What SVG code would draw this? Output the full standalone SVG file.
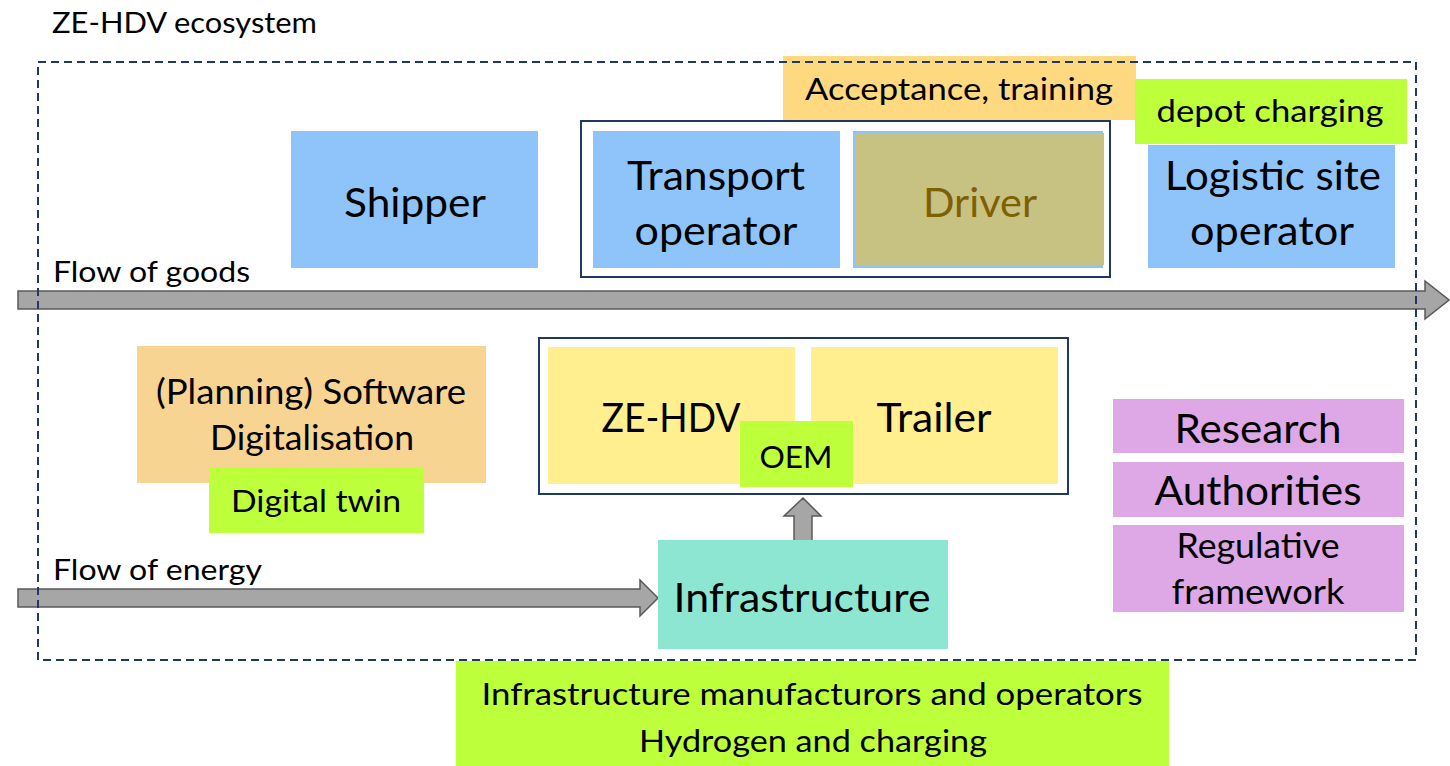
<svg xmlns="http://www.w3.org/2000/svg" width="1450" height="766" viewBox="0 0 1450 766">
<style>
text{font-family:Lato,"Open Sans","Liberation Sans",sans-serif;fill:#000;text-anchor:middle}
.lbl{text-anchor:start;font-size:29px}
.big{font-size:41px}
.mid{font-size:35px}
.sm{font-size:31px}
.blue{fill:#8EC4FA}
.green{fill:#BEFF3C}
.yel{fill:#FFEF8F}
.pink{fill:#DEA8E6}
.frame{fill:#fff;stroke:#1F3864;stroke-width:2}
.arrow{fill:#A6A6A6;stroke:#595959;stroke-width:1.5}
</style>
<text class="lbl" x="52" y="33" textLength="265" lengthAdjust="spacingAndGlyphs">ZE-HDV ecosystem</text>

<g id="acceptance"><rect x="783" y="56" width="353" height="64" fill="#FFD980"/><text class="sm" x="959" y="100" textLength="308" lengthAdjust="spacingAndGlyphs">Acceptance, training</text></g>

<g id="connectors">
<polygon class="arrow" points="18,291 1425,291 1425,281 1449,300 1425,319 1425,309 18,309"/>
<polygon class="arrow" points="18,589 640,589 640,580 658,598 640,616 640,607 18,607"/>
<polygon class="arrow" points="794,552 794,516 784,516 803,498 821,516 812,516 812,552"/>
</g>
<text class="lbl" x="53" y="282" textLength="197" lengthAdjust="spacingAndGlyphs">Flow of goods</text>
<text class="lbl" x="53" y="580" textLength="209" lengthAdjust="spacingAndGlyphs">Flow of energy</text>

<g id="shipper"><rect class="blue" x="291" y="131" width="247" height="137"/><text class="big" x="415" y="217" textLength="142" lengthAdjust="spacingAndGlyphs">Shipper</text></g>

<g id="transport-group"><rect class="frame" x="581" y="121" width="529" height="156"/></g>
<g id="transport-operator"><rect class="blue" x="593" y="131" width="247" height="137"/><text class="big" x="716" y="190" textLength="178" lengthAdjust="spacingAndGlyphs">Transport</text><text class="big" x="716" y="245" textLength="163" lengthAdjust="spacingAndGlyphs">operator</text></g>
<g id="driver"><rect class="blue" x="853" y="131" width="250" height="137"/><rect x="855" y="133" width="249" height="132" fill="#C8C282"/><text class="big" x="980" y="217" textLength="114" lengthAdjust="spacingAndGlyphs" style="fill:#7F6000">Driver</text></g>

<g id="depot-charging"><rect class="green" x="1135" y="79" width="272" height="65"/><text class="sm" x="1270" y="122" textLength="227" lengthAdjust="spacingAndGlyphs">depot charging</text></g>
<g id="logistic-site-operator"><rect class="blue" x="1148" y="145" width="247" height="123"/><text class="big" x="1273" y="190" textLength="216" lengthAdjust="spacingAndGlyphs">Logistic site</text><text class="big" x="1272" y="245" textLength="164" lengthAdjust="spacingAndGlyphs">operator</text></g>

<g id="software"><rect x="137" y="346" width="349" height="137" fill="#F8D493"/><text class="mid" x="311" y="404" textLength="310" lengthAdjust="spacingAndGlyphs">(Planning) Software</text><text class="mid" x="312" y="450" textLength="204" lengthAdjust="spacingAndGlyphs">Digitalisation</text></g>
<g id="digital-twin"><rect class="green" x="209" y="467" width="215" height="66"/><text class="sm" x="316" y="512" textLength="170" lengthAdjust="spacingAndGlyphs">Digital twin</text></g>

<g id="vehicle-group"><rect class="frame" x="539" y="338" width="529" height="156"/></g>
<g id="ze-hdv"><rect class="yel" x="548" y="347" width="247" height="137"/><text class="big" x="671" y="432" textLength="139" lengthAdjust="spacingAndGlyphs">ZE-HDV</text></g>
<g id="trailer"><rect class="yel" x="811" y="347" width="247" height="137"/><text class="big" x="934" y="432" textLength="115" lengthAdjust="spacingAndGlyphs">Trailer</text></g>
<g id="oem"><rect class="green" x="740" y="421" width="113" height="66"/><text class="sm" x="796" y="468" textLength="73" lengthAdjust="spacingAndGlyphs">OEM</text></g>

<g id="infrastructure"><rect x="658" y="540" width="290" height="109" fill="#8CE6D1"/><text class="big" x="802" y="612" textLength="257" lengthAdjust="spacingAndGlyphs">Infrastructure</text></g>

<g id="research"><rect class="pink" x="1113" y="399" width="291" height="54"/><text class="big" x="1258" y="443" textLength="167" lengthAdjust="spacingAndGlyphs">Research</text></g>
<g id="authorities"><rect class="pink" x="1113" y="462" width="291" height="55"/><text class="big" x="1258" y="505" textLength="207" lengthAdjust="spacingAndGlyphs">Authorities</text></g>
<g id="regulative-framework"><rect class="pink" x="1113" y="525" width="291" height="87"/><text class="mid" x="1258" y="558" textLength="163" lengthAdjust="spacingAndGlyphs">Regulative</text><text class="mid" x="1258" y="604" textLength="173" lengthAdjust="spacingAndGlyphs">framework</text></g>

<g id="ecosystem-boundary"><rect x="38" y="62" width="1378" height="598" fill="none" stroke="#1F3864" stroke-width="2" stroke-dasharray="8,5"/></g>

<g id="infrastructure-manufacturers"><rect class="green" x="456" y="661" width="713" height="105"/><text class="sm" x="812" y="705" textLength="661" lengthAdjust="spacingAndGlyphs">Infrastructure manufacturors and operators</text><text class="sm" x="813" y="752" textLength="348" lengthAdjust="spacingAndGlyphs">Hydrogen and charging</text></g>
</svg>
